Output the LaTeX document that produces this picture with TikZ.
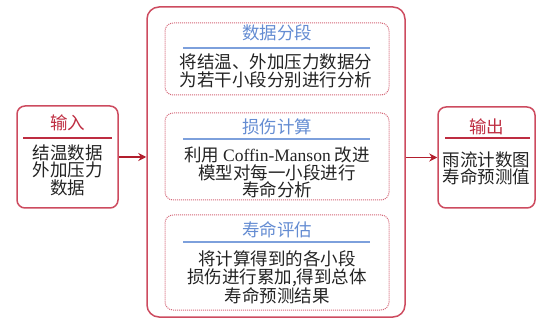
\documentclass[tikz,border=0pt]{standalone}
\usepackage{fontspec}
\setmainfont{Liberation Serif}
\newfontfamily\cjk{Noto Sans CJK SC}
\newfontfamily\lat{Liberation Serif}
\usetikzlibrary{arrows.meta}
\definecolor{boxred}{RGB}{205,75,95}
\definecolor{arrred}{RGB}{178,30,45}
\definecolor{titred}{RGB}{190,45,65}
\definecolor{titblue}{RGB}{100,140,210}
\definecolor{lineblue}{RGB}{125,160,220}
\definecolor{txt}{RGB}{35,35,35}
\tikzset{
  outerbox/.style={draw=boxred, line width=1.5pt, rounded corners=12pt, minimum width=258pt, minimum height=310pt, inner sep=0pt},
  sidebox/.style={draw=boxred, line width=1.5pt, rounded corners=8pt, inner sep=0pt},
  stagebox/.style={draw=boxred!85, densely dotted, line width=1pt, rounded corners=8pt, minimum width=224pt, inner sep=0pt},
  ttl/.style={font=\cjk\fontsize{17.5}{18}\selectfont, inner sep=0pt},
  body/.style={font=\cjk\fontsize{17.5}{17.6}\selectfont, text=txt, align=center, inner sep=0pt},
  redline/.style={draw=titred, line width=1.2pt},
  blueline/.style={draw=lineblue, line width=1.2pt},
  arr/.style={draw=arrred, line width=1.8pt, -{Stealth[length=8pt,width=8pt]}}
}
\begin{document}
\begin{tikzpicture}[x=1pt,y=-1pt]
\useasboundingbox (0,0) rectangle (538,320);
% boxes
\node[sidebox, minimum width=101pt, minimum height=102pt] (inbox) at (67.5,157) {};
\node[outerbox] (outer) at (276,162) {};
\node[stagebox, minimum height=72pt] (s1) at (277,59) {};
\node[stagebox, minimum height=87pt] (s2) at (277,156.5) {};
\node[stagebox, minimum height=95pt] (s3) at (277,262.5) {};
\node[sidebox, minimum width=97pt, minimum height=101pt] (outbox) at (486.5,157.5) {};
% input
\node[ttl, text=titred] (intitle) at (67.5,123) {输入};
\draw[redline] (23,138) -- (112,138);
\node[body] (intext) at (67.5,170) {结温数据\\外加压力\\数据};
% stage 1
\node[ttl, text=titblue] (t1) at (277,33) {数据分段};
\draw[blueline] (183,48) -- (370,48);
\node[body] (b1) at (276,71) {将结温、外加压力数据分\\为若干小段分别进行分析};
% stage 2
\node[ttl, text=titblue] (t2) at (277,127) {损伤计算};
\draw[blueline] (183,139) -- (370,139);
\node[body] (b2) at (277,172.5) {利用 {\lat Coffin-Manson} 改进\\模型对每一小段进行\\寿命分析};
% stage 3
\node[ttl, text=titblue] (t3) at (277,230) {寿命评估};
\draw[blueline] (183,242) -- (370,242);
\node[body] (b3) at (277,277.5) {将计算得到的各小段\\损伤进行累加,得到总体\\寿命预测结果};
% output
\node[ttl, text=titred] (outtitle) at (486.5,127) {输出};
\draw[redline] (445,138) -- (530,138);
\node[body] (outtext) at (486.5,168.5) {雨流计数图\\寿命预测值};
% arrows
\draw[arr] (inbox.east) -- (inbox.east -| outer.west);
\draw[arr] (outer.east |- outbox.west) -- (outbox.west);
\end{tikzpicture}
\end{document}
